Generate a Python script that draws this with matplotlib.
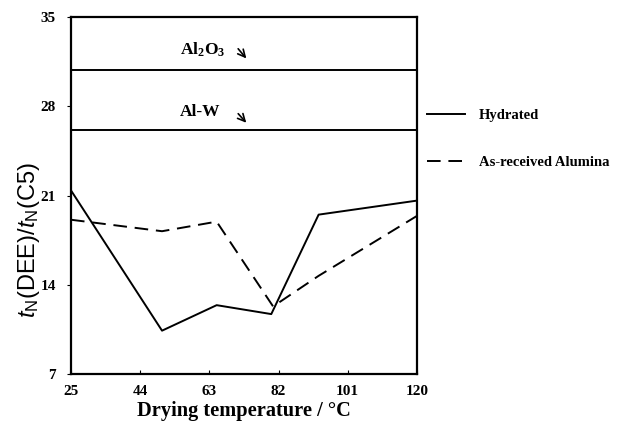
import matplotlib
matplotlib.use("Agg")
import matplotlib.pyplot as plt

# drying temperature (deg C) and t_N(DEE)/t_N(C5) ratios
hydrated_temp = [25, 50, 65, 80, 93, 120]
hydrated_ratio = [21.4, 10.4, 12.4, 11.7, 19.5, 20.6]

received_temp = [25, 50, 65, 80.5, 93, 120]
received_ratio = [19.1, 18.2, 18.95, 12.3, 14.7, 19.4]

# reference levels
al2o3_level = 30.85
alw_level = 26.15

xticks = [25, 44, 63, 82, 101, 120]
yticks = [7, 14, 21, 28, 35]

serif = "Liberation Serif"
plt.rcParams["mathtext.fontset"] = "custom"
plt.rcParams["mathtext.rm"] = "Liberation Sans"
plt.rcParams["mathtext.it"] = "Liberation Sans:italic"
plt.rcParams["mathtext.bf"] = "Liberation Serif:bold"

fig = plt.figure(figsize=(6.2, 4.21), dpi=100)
ax = fig.add_axes([0.1145, 0.1116, 0.558, 0.848])

ax.plot(hydrated_temp, hydrated_ratio, color="black", lw=1.4, label="Hydrated")
ax.plot(received_temp, received_ratio, color="black", lw=1.4,
        dashes=(7, 4), label="As-received Alumina")
ax.axhline(al2o3_level, color="black", lw=1.4)
ax.axhline(alw_level, color="black", lw=1.4)

ax.text(0.315, 0.908, r"Al$_\mathbf{2}$O$_\mathbf{3}$", transform=ax.transAxes,
        fontfamily=serif, fontweight="bold", fontsize=12.5, va="center")
ax.text(0.315, 0.734, "Al-W", transform=ax.transAxes,
        fontfamily=serif, fontweight="bold", fontsize=12.5, va="center")
for y0, y1 in [(0.915, 0.878), (0.733, 0.698)]:
    ax.annotate("", xy=(0.512, y1), xytext=(0.478, y0 + 0.002),
                xycoords="axes fraction",
                arrowprops=dict(arrowstyle="->", color="black", lw=1.2,
                                mutation_scale=13))

ax.set_xlim(25, 120)
ax.set_ylim(7, 35)
ax.set_xticks(xticks)
ax.set_yticks(yticks)
ax.tick_params(axis="x", direction="in", length=3, pad=8)
ax.tick_params(axis="y", direction="out", length=3, pad=8)
for lab in ax.get_xticklabels() + ax.get_yticklabels():
    lab.set_fontfamily(serif)
    lab.set_fontweight("bold")
    lab.set_fontsize(11)
for sp in ax.spines.values():
    sp.set_linewidth(1.6)

ax.set_xlabel("Drying temperature / \u00b0C", fontfamily=serif,
              fontweight="bold", fontsize=14.7, labelpad=2)
ax.set_ylabel(r"$\mathit{t}_\mathrm{N}$(DEE)/$\mathit{t}_\mathrm{N}$(C5)",
              fontfamily="Liberation Sans", fontsize=17)
ax.yaxis.set_label_coords(-0.085, 0.375)

ax.legend(loc="upper left", bbox_to_anchor=(0.99, 0.78), frameon=False,
          handlelength=2.6, handletextpad=1.0, labelspacing=2.3,
          prop={"family": serif, "weight": "bold", "size": 10.5})

fig.savefig("out.png", dpi=100)
